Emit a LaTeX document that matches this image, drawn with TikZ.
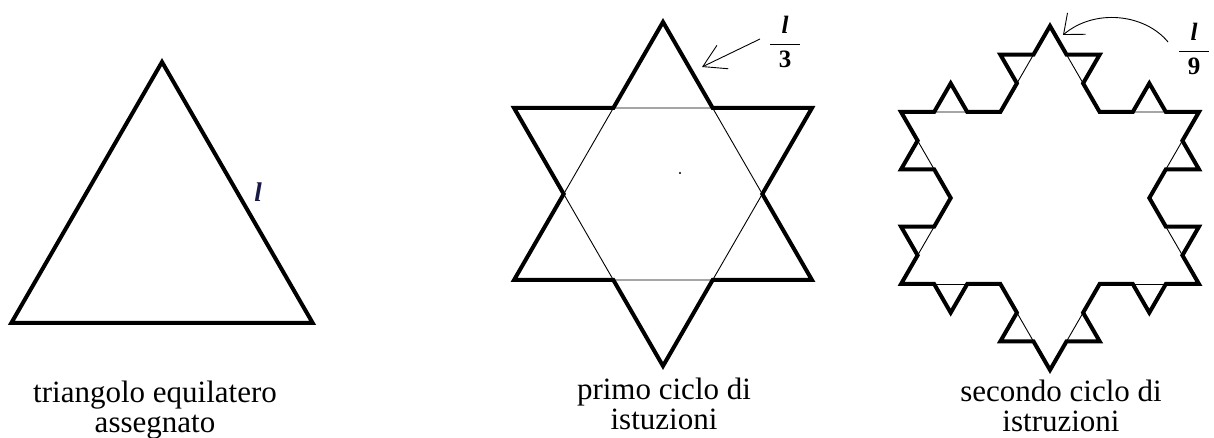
\documentclass[tikz,border=0pt]{standalone}
\usepackage{fontspec}
\setmainfont{Liberation Serif}
\usetikzlibrary{calc,arrows.meta}
\definecolor{labnavy}{RGB}{25,25,70}
\newcommand\kochpts[3]{%
  \coordinate (#3-a) at ($(#1)!1/3!(#2)$);
  \coordinate (#3-b) at ($(#1)!2/3!(#2)$);
  \coordinate (#3-t) at ($(#3-a)!1!-60:(#3-b)$);
}
\begin{document}
\begin{tikzpicture}[x=1pt,y=1pt,
  thickline/.style={line width=4pt,line join=miter},
  thinline/.style={line width=0.9pt},
  caption/.style={font=\fontsize{31}{30}\selectfont, align=center, inner sep=0pt},
  fracfont/.style={font=\fontsize{25}{27}\selectfont, inner sep=0pt},
  arrowline/.style={line width=0.9pt}]
\useasboundingbox (0,0) rectangle (1214,438);

% ---- figure 1: given equilateral triangle
\coordinate (c1) at (162,202);
\coordinate (A0) at ($(c1)+(90:174)$);
\coordinate (A1) at ($(c1)+(210:174)$);
\coordinate (A2) at ($(c1)+(330:174)$);
\draw[thickline] (A0) -- (A1) -- (A2) -- cycle;
\node[font=\fontsize{27}{27}\selectfont\bfseries\itshape, text=labnavy, inner sep=0pt] (lside) at (258,246) {l};

% ---- figure 2: first cycle
\coordinate (c2) at (663,244);
\coordinate (B0) at ($(c2)+(90:172)$);
\coordinate (B1) at ($(c2)+(210:172)$);
\coordinate (B2) at ($(c2)+(330:172)$);
\kochpts{B0}{B1}{p1}
\kochpts{B1}{B2}{p2}
\kochpts{B2}{B0}{p3}
\draw[thickline] (B0) -- (p1-a) -- (p1-t) -- (p1-b) -- (B1) -- (p2-a) -- (p2-t) -- (p2-b)
  -- (B2) -- (p3-a) -- (p3-t) -- (p3-b) -- cycle;
\draw[thinline] (p1-a) -- (p1-b) -- (p2-a) -- (p2-b) -- (p3-a) -- (p3-b) -- cycle;
\fill (680,265) circle (1.1pt);

\node[fracfont] (f3) at (785,396) {$\displaystyle\frac{\hbox to 30pt{\hss\bfseries\itshape l\hss}}{\hbox to 30pt{\hss\bfseries 3\hss}}$};
\coordinate (a3s) at (760,399);
\coordinate (a3e) at (702,371);
\draw[arrowline,-{Straight Barb[length=22pt,width=26pt]}] (a3s) -- (a3e);

% ---- figure 3: second cycle
\coordinate (c3) at (1050,240);
\coordinate (C0) at ($(c3)+(90:172)$);
\coordinate (C1) at ($(c3)+(210:172)$);
\coordinate (C2) at ($(c3)+(330:172)$);
\kochpts{C0}{C1}{q1}
\kochpts{C1}{C2}{q2}
\kochpts{C2}{C0}{q3}
\foreach \p/\q [count=\i] in {C0/q1-a, q1-a/q1-t, q1-t/q1-b, q1-b/C1,
    C1/q2-a, q2-a/q2-t, q2-t/q2-b, q2-b/C2,
    C2/q3-a, q3-a/q3-t, q3-t/q3-b, q3-b/C0} {\kochpts{\p}{\q}{r\i}}
\draw[thickline] (C0) \foreach \q [count=\i] in {q1-a, q1-t, q1-b, C1, q2-a, q2-t, q2-b, C2, q3-a, q3-t, q3-b}
  { -- (r\i-a) -- (r\i-t) -- (r\i-b) -- (\q) } -- (r12-a) -- (r12-t) -- (r12-b) -- cycle;
\foreach \i in {1,...,12} {\draw[thinline] (r\i-a) -- (r\i-b);}

\node[fracfont] (f9) at (1194,389) {$\displaystyle\frac{\hbox to 30pt{\hss\bfseries\itshape l\hss}}{\hbox to 30pt{\hss\bfseries 9\hss}}$};
\coordinate (a9s) at (1168,396);
\coordinate (a9e) at (1063,403);
\draw[arrowline,-{Straight Barb[length=17pt,width=28pt]}] (a9s) .. controls (1145,424) and (1095,430) .. (a9e);

% ---- captions
\node[caption] (t1) at (155,28) {triangolo equilatero\\assegnato};
\node[caption] (t2) at (664,34) {primo ciclo di\\istuzioni};
\node[caption] (t3) at (1061,32) {secondo ciclo di\\istruzioni};
\end{tikzpicture}
\end{document}
